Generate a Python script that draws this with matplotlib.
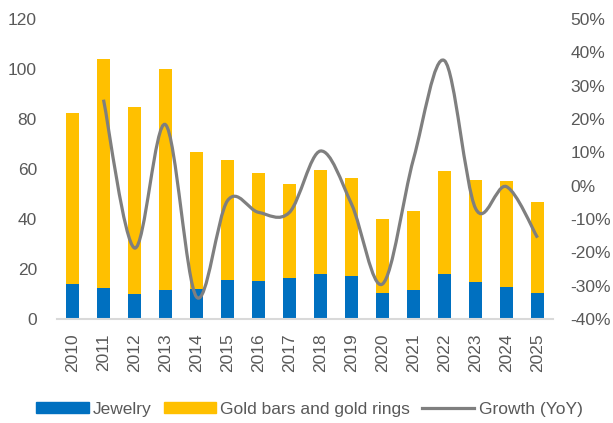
import matplotlib
matplotlib.use("Agg")
import matplotlib.pyplot as plt
from matplotlib.path import Path
from matplotlib.patches import PathPatch, Patch
from matplotlib.lines import Line2D
import numpy as np

plt.rcParams['font.family'] = ['Liberation Sans', 'DejaVu Sans']

years = ["2010", "2011", "2012", "2013", "2014", "2015", "2016", "2017",
         "2018", "2019", "2020", "2021", "2022", "2023", "2024", "2025"]
jewelry = [13.9, 12.5, 10.1, 11.6, 12.1, 15.5, 15.2, 16.4,
           18.0, 17.1, 10.4, 11.7, 17.9, 14.9, 12.9, 10.3]
bars_rings = [68.6, 91.5, 74.6, 88.5, 54.8, 48.1, 43.3, 37.6,
              41.6, 39.4, 29.5, 31.4, 41.3, 40.7, 42.4, 36.5]
growth_years = years[1:]
growth = [25.8, -18.7, 18.3, -33.4, -4.5, -8.0, -8.0, 10.4,
          -5.5, -29.5, 8.0, 37.5, -6.8, -0.3, -15.6]

BLUE = "#0070C0"
YELLOW = "#FFC000"
GREY_LINE = "#7F7F7F"
TEXT = "#595959"
FS = 12.5

fig = plt.figure(figsize=(6.13, 4.23), dpi=100)
ax = fig.add_axes([57 / 613, 1 - 319 / 423, 496 / 613, 300 / 423])

x = np.arange(len(years))
width = 0.39
ax.bar(x, jewelry, width, color=BLUE, zorder=2)
ax.bar(x, bars_rings, width, bottom=jewelry, color=YELLOW, zorder=2)

ax.set_xlim(-0.5, len(years) - 0.5)
ax.set_ylim(0, 120)
ax.set_yticks(range(0, 121, 20))
ax.set_xticks(x)
ax.set_xticklabels(years, rotation=90)
ax.tick_params(axis='y', length=0, pad=14.4, labelsize=FS, labelcolor=TEXT)
ax.tick_params(axis='x', length=0, pad=10.5, labelsize=FS, labelcolor=TEXT)
for s in ["top", "left", "right"]:
    ax.spines[s].set_visible(False)
ax.spines["bottom"].set_color("#D9D9D9")
ax.spines["bottom"].set_linewidth(1.5)

ax2 = ax.twinx()
ax2.set_ylim(-40, 50)
ax2.set_yticks(range(-40, 51, 10))
ax2.set_yticklabels([f"{v}%" for v in range(-40, 51, 10)])
ax2.tick_params(axis='y', length=0, pad=12.5, labelsize=FS, labelcolor=TEXT)
for s in ["top", "left", "right", "bottom"]:
    ax2.spines[s].set_visible(False)

# smoothed growth curve (Catmull-Rom segments as cubic Bezier)
gx = np.array([years.index(y) for y in growth_years], dtype=float)
gy = np.array(growth, dtype=float)
pts = np.column_stack([gx, gy])
ext = np.vstack([pts[0], pts, pts[-1]])
verts = [tuple(pts[0])]
codes = [Path.MOVETO]
for i in range(len(pts) - 1):
    p0, p1, p2, p3 = ext[i], ext[i + 1], ext[i + 2], ext[i + 3]
    c1 = p1 + (p2 - p0) / 6.0
    c2 = p2 - (p3 - p1) / 6.0
    verts += [tuple(c1), tuple(c2), tuple(p2)]
    codes += [Path.CURVE4] * 3
ax2.add_patch(PathPatch(Path(verts, codes), facecolor="none",
                        edgecolor=GREY_LINE, lw=2.3, capstyle="butt", zorder=3))

handles = [Patch(color=BLUE, label="Jewelry"),
           Patch(color=YELLOW, label="Gold bars and gold rings"),
           Line2D([], [], color=GREY_LINE, lw=2.3, label="Growth (YoY)")]
fig.legend(handles=handles, loc="center", bbox_to_anchor=(309.5 / 613, 1 - 409 / 423),
           ncol=3, frameon=False, fontsize=FS, handlelength=3.0, handleheight=0.55,
           handletextpad=0.25, columnspacing=0.7, labelcolor=TEXT)

fig.savefig("out.png", dpi=100)
